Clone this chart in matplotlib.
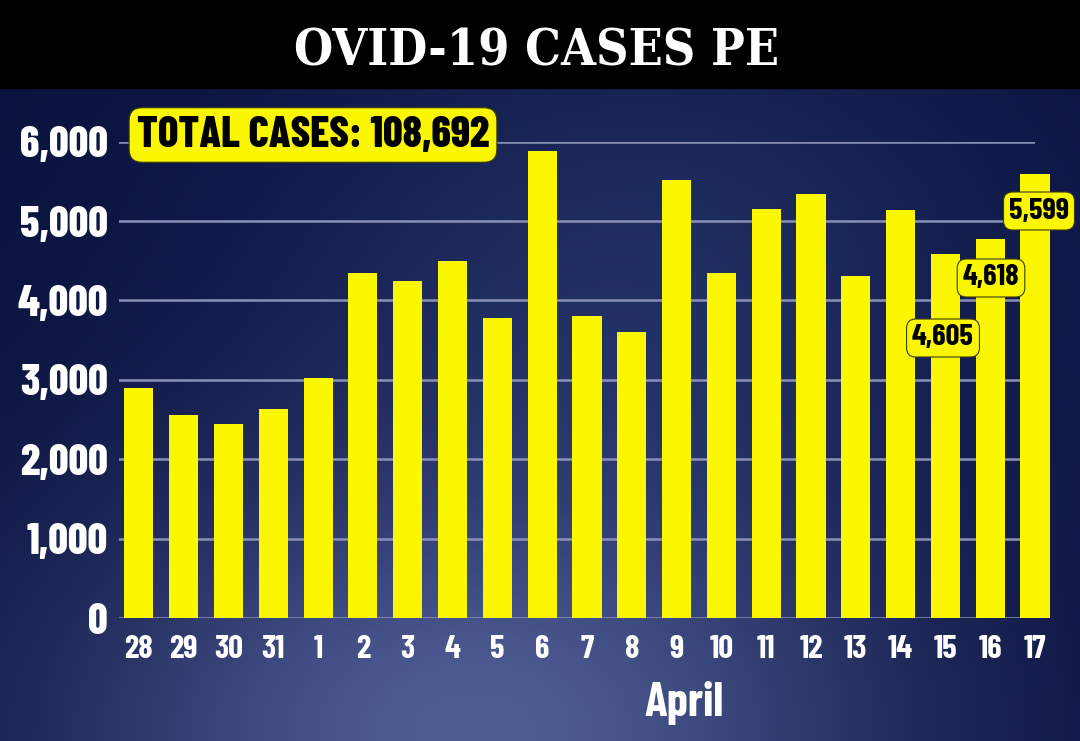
import numpy as np
import matplotlib
matplotlib.use("Agg")
import matplotlib.pyplot as plt


# Data (daily cases)
days = ["28", "29", "30", "31", "1", "2", "3", "4", "5", "6", "7",
        "8", "9", "10", "11", "12", "13", "14", "15", "16", "17"]
cases = [2900, 2560, 2450, 2630, 3020, 4340, 4240, 4500, 3780, 5880, 3810,
         3600, 5520, 4350, 5150, 5340, 4310, 5140, 4590, 4770, 5590]
y_ticks = [0, 1000, 2000, 3000, 4000, 5000, 6000]
callout_days = ["15", "16", "17"]
callout_labels = ["4,605", "4,618", "5,599"]
total_label = "TOTAL CASES: 108,692"
title_text = "OVID-19 CASES PE"
month_label = "April"

# Style
W_PX, H_PX = 1080, 741
DPI = 100
YELLOW = "#fbf700"
GRID = "#8a91b8"
COND = "Barlow Condensed"


def px_x(x):
    return x / W_PX


def px_y(y):
    return 1 - y / H_PX


def background(fig):
    bg = fig.add_axes([0, 0, 1, 1], zorder=-10)
    yy, xx = np.mgrid[0:H_PX:4, 0:W_PX:4]
    base = np.array([10, 18, 62]) / 255
    glow1 = np.array([78, 92, 148]) / 255
    glow2 = np.array([34, 50, 102]) / 255
    g1 = np.exp(-((xx - 470) ** 2 / 420 ** 2 + (yy - 740) ** 2 / 280 ** 2))
    g2 = np.exp(-((xx - 640) ** 2 / 380 ** 2 + (yy - 260) ** 2 / 260 ** 2))
    img = base + g1[..., None] * (glow1 - base) + g2[..., None] * (glow2 - base) * 0.8
    bg.imshow(np.clip(img, 0, 1), aspect="auto", extent=(0, 1, 0, 1))
    bg.axis("off")


def main():
    fig = plt.figure(figsize=(W_PX / DPI, H_PX / DPI), dpi=DPI)
    background(fig)

    # black title strip
    fig.patches.append(plt.Rectangle((0, px_y(88)), 1, 88 / H_PX,
                                     transform=fig.transFigure, color="black", zorder=-5))
    fig.text(px_x(537), px_y(65), title_text, color="white", ha="center", va="baseline",
             fontsize=36, fontweight="bold", family="DejaVu Serif", fontstretch="condensed")

    ax = fig.add_axes([119 / W_PX, 1 - 618 / H_PX, 916 / W_PX, (618 - 141.7) / H_PX])
    ax.patch.set_alpha(0)
    x = np.arange(len(days))
    ax.bar(x, cases, width=0.65, color=YELLOW, zorder=3, clip_on=False)
    ax.set_xlim(-0.444, 19.91)
    ax.set_ylim(0, 6000)
    ax.set_yticks(y_ticks)
    ax.set_yticklabels([f"{v:,}" for v in y_ticks])
    ax.set_xticks(x)
    ax.set_xticklabels(days)
    ax.grid(axis="y", color=GRID, lw=1.8, zorder=1)
    ax.tick_params(length=0, colors="white")
    ax.tick_params(axis="y", pad=8, labelsize=31)
    ax.tick_params(axis="x", pad=12, labelsize=23.5)
    for lab in ax.get_yticklabels():
        lab.set_fontweight(800)
        lab.set_family(COND)
    for lab in ax.get_xticklabels():
        lab.set_fontweight("bold")
        lab.set_family(COND)
    for s in ax.spines.values():
        s.set_visible(False)

    fig.text(px_x(684), px_y(703), month_label, color="white", ha="center", va="center",
             fontsize=34, fontweight="bold", family=COND)

    box = dict(boxstyle="round,pad=0.18,rounding_size=0.3", fc=YELLOW, ec="#3a3a10", lw=0.8)
    fig.text(px_x(313), px_y(135), total_label, ha="center", va="center", fontsize=31,
             fontweight=800, family=COND, color="black", bbox=box)

    callout_pos = [(943, 338), (991, 278), (1039, 211)]
    for lab, (cx, cy) in zip(callout_labels, callout_pos):
        fig.text(px_x(cx), px_y(cy), lab, ha="center", va="center", fontsize=22,
                 fontweight="bold", family=COND, color="black", bbox=box)

    fig.savefig("out.png", dpi=DPI)


if __name__ == "__main__":
    main()
